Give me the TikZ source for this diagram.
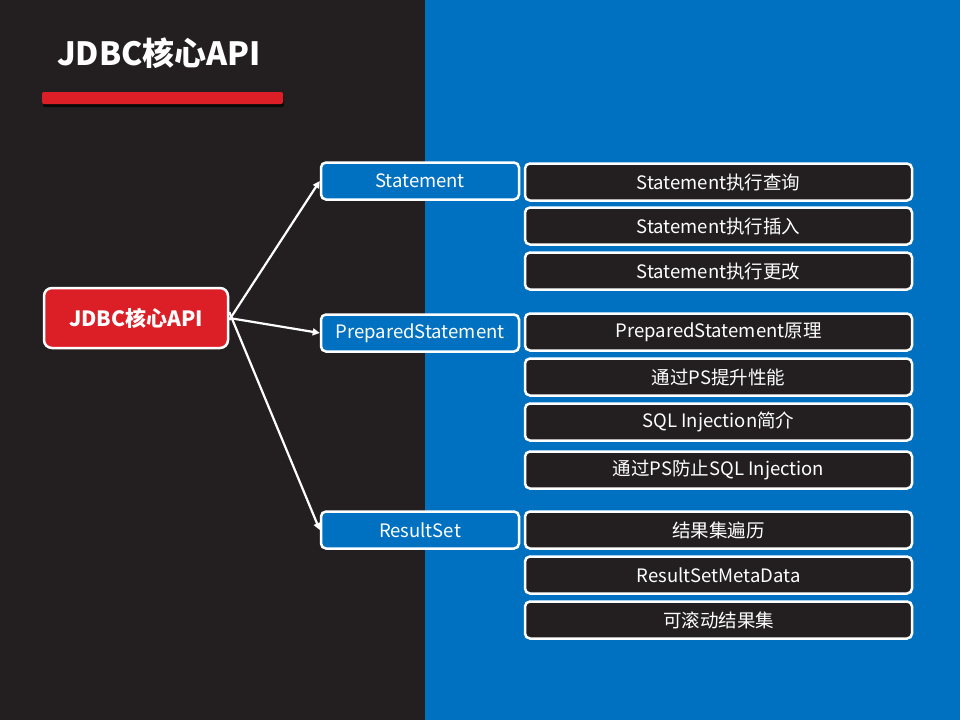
\documentclass[tikz,border=0pt]{standalone}
\usepackage{fontspec}
\setmainfont{Noto Sans CJK SC}
\usetikzlibrary{arrows.meta, shadows}

\definecolor{darkbg}{HTML}{231F20}
\definecolor{bluebg}{HTML}{0070C0}
\definecolor{apired}{HTML}{DC1E27}

\begin{document}
\begin{tikzpicture}[x=1pt, y=-1pt, line width=2.5pt, >={Triangle[length=7pt,width=7pt]},
    root/.style={draw=white, fill=apired, rounded corners=8pt, minimum width=184pt, minimum height=60pt, text=white, font=\fontsize{21}{24}\selectfont\bfseries},
    branch/.style={draw=white, fill=bluebg, rounded corners=5pt, minimum width=198pt, minimum height=37pt, text=white, font=\fontsize{18.5}{21}\selectfont},
    leaf/.style={draw=white, fill=darkbg, rounded corners=5pt, minimum width=387pt, minimum height=37pt, text=white, font=\fontsize{18.5}{21}\selectfont}]
        % background halves
        \fill[darkbg] (0,0) rectangle (425,720);
        \fill[bluebg] (425,0) rectangle (960,720);

        % title and bar
        \node[text=white, font=\fontsize{32}{36}\selectfont\bfseries] (title) at (159,53) {JDBC核心API};
        \fill[apired, rounded corners=2pt, drop shadow={fill=black, opacity=0.7, shadow xshift=1pt, shadow yshift=-3pt}] (42,92) rectangle (283,104);

        % root and branches
        \node[root] (api) at (136,318) {JDBC核心API};
        \node[branch] (stmt) at (420,181) {Statement};
        \node[branch] (pstmt) at (420,333) {PreparedStatement};
        \node[branch] (rs) at (420,530) {ResultSet};

        % leaves
        \node[leaf] (query) at (718.5,182) {Statement执行查询};
        \node[leaf] (insert) at (718.5,226) {Statement执行插入};
        \node[leaf] (update) at (718.5,271) {Statement执行更改};
        \node[leaf] (psprin) at (718.5,332) {PreparedStatement原理};
        \node[leaf] (psperf) at (718.5,377) {通过PS提升性能};
        \node[leaf] (sqlinj) at (718.5,422) {SQL Injection简介};
        \node[leaf] (psinj) at (718.5,470) {通过PS防止SQL Injection};
        \node[leaf] (rsloop) at (718.5,530) {结果集遍历};
        \node[leaf] (rsmeta) at (718.5,575) {ResultSetMetaData};
        \node[leaf] (rsscroll) at (718.5,620) {可滚动结果集};

        \draw[->, white, line width=2.2pt] ([yshift=-2pt]api.east) -- (stmt.west);
        \draw[->, white, line width=2.2pt] (api.east) -- (pstmt.west);
        \draw[->, white, line width=2.2pt] ([yshift=6pt]api.east) -- (rs.west);
    \end{tikzpicture}
\end{document}
